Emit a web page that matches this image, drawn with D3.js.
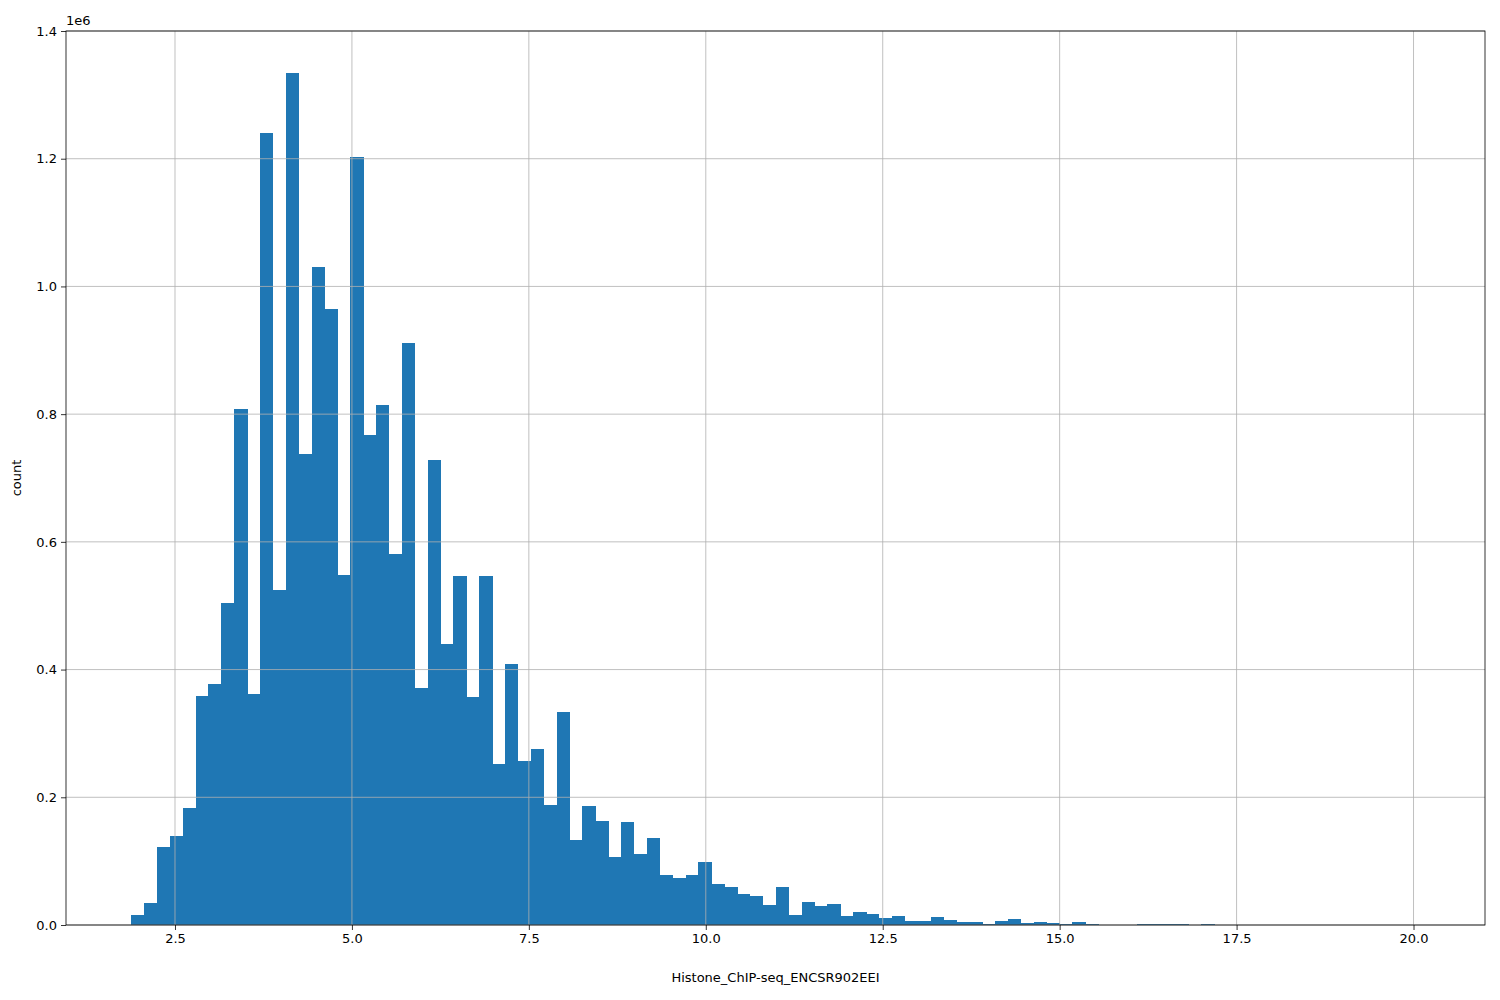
<!DOCTYPE html>
<html>
<head>
<meta charset="utf-8">
<script src="https://cdn.jsdelivr.net/npm/d3@7"></script>
<style>
  body { margin: 0; background: #fff; }
  text { font-family: "DejaVu Sans", sans-serif; }
</style>
</head>
<body>
<svg id="chart" width="1500" height="1000"></svg>
<script>
// histogram of the ENCSR902EEI signal, 100 bins
const binStart = 1.879;
const binWidth = 0.1822;
const counts = [
  0.015, 0.035, 0.122, 0.140, 0.183, 0.358, 0.377, 0.504, 0.808, 0.362,
  1.240, 0.525, 1.335, 0.738, 1.030, 0.964, 0.548, 1.202, 0.768, 0.814,
  0.581, 0.912, 0.371, 0.728, 0.440, 0.547, 0.357, 0.547, 0.252, 0.408,
  0.257, 0.275, 0.188, 0.333, 0.133, 0.186, 0.163, 0.106, 0.161, 0.111,
  0.136, 0.078, 0.073, 0.079, 0.099, 0.064, 0.059, 0.048, 0.046, 0.032,
  0.059, 0.016, 0.036, 0.029, 0.033, 0.014, 0.020, 0.018, 0.011, 0.014,
  0.007, 0.007, 0.012, 0.008, 0.005, 0.005, 0.002, 0.006, 0.009, 0.003,
  0.004, 0.003, 0.001, 0.004, 0.002, 0.0005, 0.0005, 0.0003, 0.002, 0.002,
  0.002, 0.0015, 0.0005, 0.002, 0.0003, 0.0003, 0.0002, 0.0002, 0.0001, 0.0001,
  0.0001, 0.0001, 0.0001, 0.0001, 0.0001, 0.0001, 0.0001, 0.0001, 0.0001, 0.0001
].map(d => d * 1e6);
const xTicks = [2.5, 5.0, 7.5, 10.0, 12.5, 15.0, 17.5, 20.0];
const yTicks = [0, 0.2, 0.4, 0.6, 0.8, 1.0, 1.2, 1.4];

const margin = { top: 31, right: 15, bottom: 75, left: 66 };
const width = 1500 - margin.left - margin.right;
const height = 1000 - margin.top - margin.bottom;

const svg = d3.select("#chart");
const g = svg.append("g").attr("transform", `translate(${margin.left},${margin.top})`);

const x = d3.scaleLinear().domain([0.96, 21.01]).range([0, width]);
const y = d3.scaleLinear().domain([0, 1.4e6]).range([height, 0]);

g.selectAll("rect.bar")
  .data(counts)
  .join("rect")
  .attr("class", "bar")
  .attr("x", (d, i) => x(binStart + i * binWidth))
  .attr("width", x(binWidth) - x(0) + 0.5)
  .attr("y", d => y(d))
  .attr("height", d => y(0) - y(d))
  .attr("fill", "#1f77b4")
  .attr("shape-rendering", "crispEdges");

// grid on top of the bars, like matplotlib
g.selectAll(".gx").data(xTicks).join("line")
  .attr("x1", d => x(d)).attr("x2", d => x(d))
  .attr("y1", 0).attr("y2", height)
  .attr("stroke", "#b0b0b0").attr("stroke-width", 0.8);
g.selectAll(".gy").data(yTicks).join("line")
  .attr("y1", d => y(d * 1e6)).attr("y2", d => y(d * 1e6))
  .attr("x1", 0).attr("x2", width)
  .attr("stroke", "#b0b0b0").attr("stroke-width", 0.8);

const xAxis = d3.axisBottom(x).tickValues(xTicks).tickFormat(d3.format(".1f")).tickSize(5).tickPadding(4);
const yAxis = d3.axisLeft(y).tickValues(yTicks.map(d => d * 1e6)).tickFormat(d => (d / 1e6).toFixed(1)).tickSize(5).tickPadding(4);

g.append("g").attr("transform", `translate(0,${height})`).call(xAxis)
  .call(a => a.select(".domain").remove());
g.append("g").call(yAxis).call(a => a.select(".domain").remove());
g.selectAll(".tick text").attr("font-size", 13).attr("fill", "#000").style("font-family", "DejaVu Sans");
g.selectAll(".tick line").attr("stroke", "#000").attr("stroke-width", 0.8);

g.append("rect").attr("width", width).attr("height", height)
  .attr("fill", "none").attr("stroke", "#000").attr("stroke-width", 0.8);

g.append("text").attr("x", 0).attr("y", -6).attr("font-size", 13).text("1e6");
g.append("text").attr("x", width / 2).attr("y", height + 57)
  .attr("text-anchor", "middle").attr("font-size", 13).text("Histone_ChIP-seq_ENCSR902EEI");
g.append("text").attr("transform", `translate(${-45},${height / 2}) rotate(-90)`)
  .attr("text-anchor", "middle").attr("font-size", 13).text("count");
</script>
</body>
</html>
